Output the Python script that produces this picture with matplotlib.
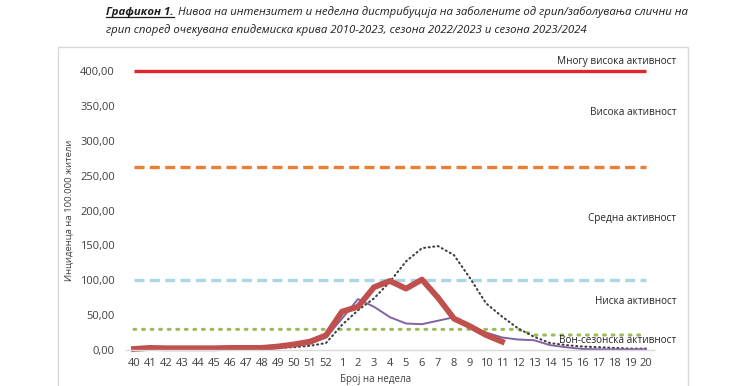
import matplotlib.pyplot as plt
from matplotlib.patches import Rectangle
from matplotlib.lines import Line2D

plt.rcParams["font.family"] = ["Open Sans", "DejaVu Sans"]

weeks = [str(w) for w in range(40, 53)] + [str(w) for w in range(1, 21)]

# season 2023/2024 (thick red)
season_2324 = [1.5, 3, 2.5, 2.5, 2.5, 2.5, 3, 3, 3, 5, 8, 12, 21,
               55, 62, 90, 99, 88, 101, 75, 45, 34, 21.5, 12]
# season 2022/2023 (thin purple)
season_2223 = [1, 1.5, 1.5, 1.5, 1.5, 2, 2, 2, 2.5, 4, 6, 9, 18,
               45, 73, 62, 47, 38, 37, 42, 47, 34, 25, 18, 15, 14, 7, 4,
               1.5, 1, 1, 1, 1]
# expected epidemic curve 2010-2023 (dotted)
expected = [1, 1, 1, 1, 1, 1.5, 1.5, 2, 2, 3, 4, 6, 10,
            36, 57, 74, 98, 127, 146, 149, 136, 103, 67, 48, 31, 19, 10, 7,
            5, 4, 3, 2, 2]

very_high = [400] * len(weeks)
high = [263] * len(weeks)
medium = [101] * len(weeks)
baseline = [29.6] * 25 + [21.5] * 8

level_labels = ["Многу висока активност", "Висока активност", "Средна активност",
                "Ниска активност", "Вон-сезонска активност"]
level_label_y = [414, 340, 189, 70, 13]

x = list(range(len(weeks)))

fig = plt.figure(figsize=(7.3, 3.86), dpi=100)
ax = fig.add_axes([126 / 730, 36 / 386, 528 / 730, 279 / 386])

ax.plot(x, very_high, color="#e0262b", lw=2.4, solid_capstyle="butt", clip_on=False)
ax.plot(x, high, color="#ed7d31", lw=2.4, ls=(0, (3, 1.6)), clip_on=False)
ax.plot(x, medium, color="#a8d8e8", lw=2.4, ls=(0, (3, 1.6)), clip_on=False)
ax.plot(x, baseline, color="#9bbb59", lw=2.2, ls=(0, (0.6, 2.2)),
        dash_capstyle="round", clip_on=False)
ax.plot(x, expected, color="#3f3f3f", lw=1.5, ls=(0, (0.5, 1.7)),
        dash_capstyle="round", clip_on=False)
ax.plot(x, season_2223, color="#8064a2", lw=1.4, clip_on=False)
ax.plot(x[:len(season_2324)], season_2324, color="#c0504d", lw=4.2,
        solid_joinstyle="round", clip_on=False)

for label, yv in zip(level_labels, level_label_y):
    ax.text(33.9, yv, label, ha="right", va="center", fontsize=7.2,
            color="#262626", clip_on=False)

ax.set_xlim(-0.5, len(weeks) - 0.5)
ax.set_ylim(0, 400)
ax.set_xticks(x)
ax.set_xticklabels(weeks)
ax.set_yticks(range(0, 401, 50))
ax.set_yticklabels([f"{v},00" for v in range(0, 401, 50)])
ax.tick_params(axis="both", length=0, labelsize=8, colors="#404040")
ax.tick_params(axis="y", pad=8)
ax.tick_params(axis="x", pad=6)
for side in ["top", "right", "left"]:
    ax.spines[side].set_visible(False)
ax.spines["bottom"].set_color("#d9d9d9")
ax.spines["bottom"].set_linewidth(1)
ax.set_ylabel("Инциденца на 100.000 жители", fontsize=6.8, color="#404040", labelpad=5)
fig.text(376 / 730, 1 / 386, "Број на недела", ha="center", va="bottom",
         fontsize=7, color="#404040")

# chart frame
fig.patches.append(Rectangle((58 / 730, -0.05), 630 / 730, 1.05 - 47 / 386,
                             transform=fig.transFigure, fill=False,
                             edgecolor="#d9d9d9", lw=1))

# title
t1 = fig.text(106 / 730, 1 - 12 / 386, "Графикон 1.", fontsize=8.2, fontweight="bold",
              style="italic", color="#1f1f1f", va="center")
fig.canvas.draw()
bb = t1.get_window_extent().transformed(fig.transFigure.inverted())
fig.lines.append(Line2D([bb.x0, bb.x1], [bb.y0 + 0.002, bb.y0 + 0.002],
                        transform=fig.transFigure, color="#1f1f1f", lw=0.9))
fig.text(bb.x1 + 0.006, 1 - 12 / 386,
         "Нивоа на интензитет и неделна дистрибуција на заболените од грип/заболувања слични на",
         fontsize=8.2, style="italic", color="#1f1f1f", va="center")
fig.text(106 / 730, 1 - 30 / 386,
         "грип според очекувана епидемиска крива 2010-2023, сезона 2022/2023 и сезона 2023/2024",
         fontsize=8.2, style="italic", color="#1f1f1f", va="center")

fig.savefig("out.png", dpi=100)
